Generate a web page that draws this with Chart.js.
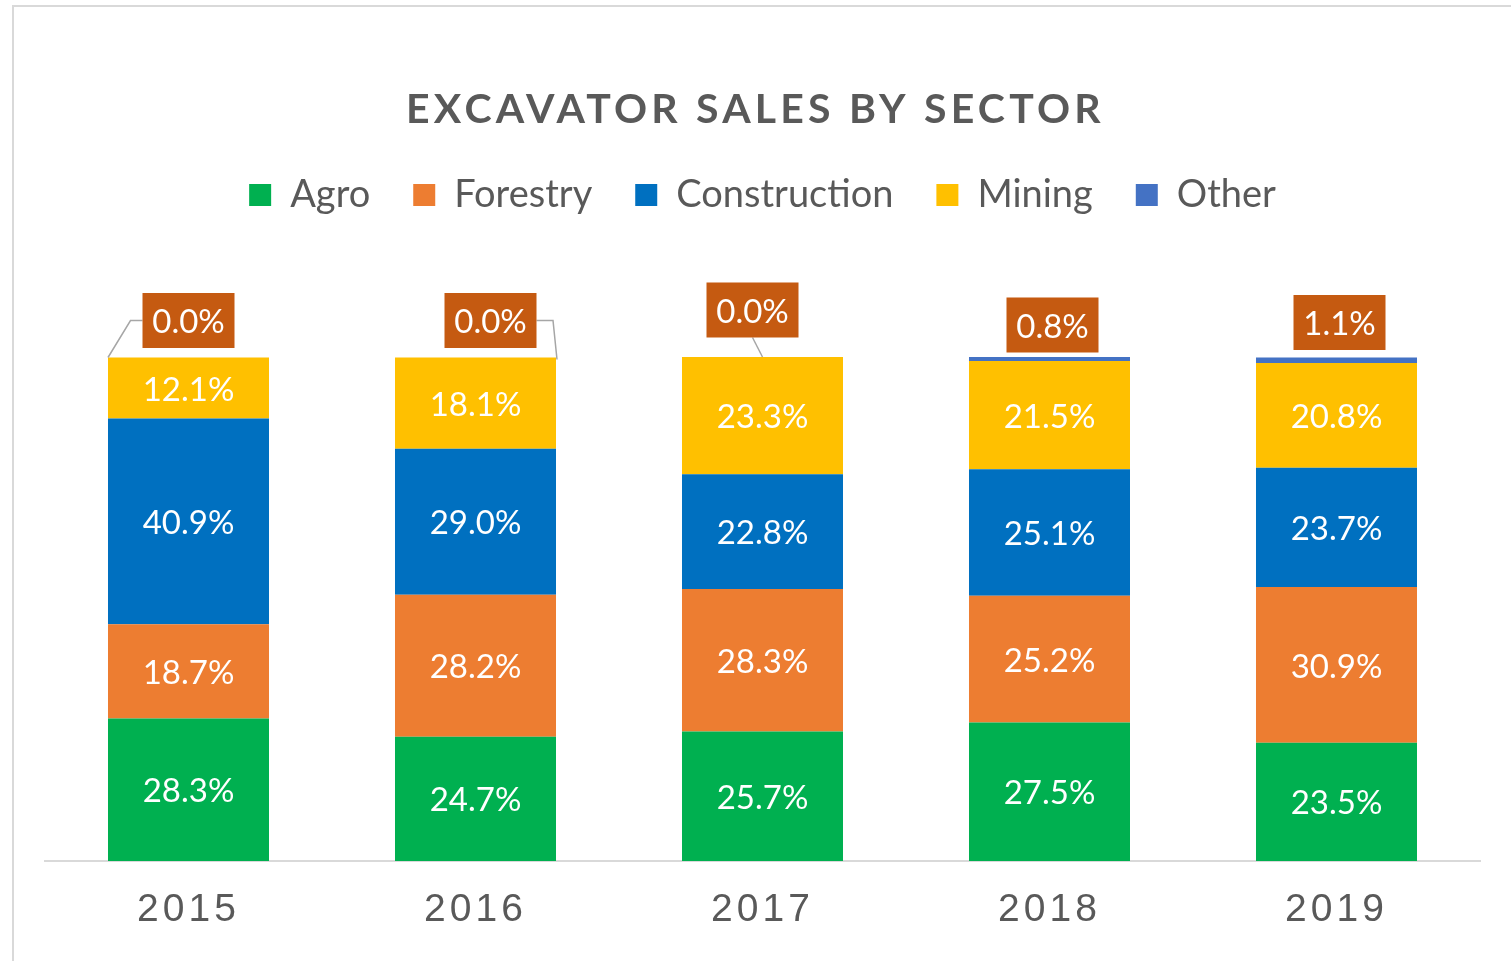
<!DOCTYPE html>
<html>
<head>
<meta charset="utf-8">
<script src="https://cdn.jsdelivr.net/npm/chart.js@4/dist/chart.umd.min.js"></script>
<style>
    html, body { margin: 0; padding: 0; background: #fff; overflow: hidden; }
    #frame { position: absolute; left: 12px; top: 5px; width: 1600px; height: 1100px; border: 2px solid #d9d9d9; }
    #wrap { position: absolute; left: 0; top: 0; width: 1511px; height: 961px; }
</style>
</head>
<body>
<div id="frame"></div>
<div id="wrap"><canvas id="chart"></canvas></div>
<script>
    var years = ['2015', '2016', '2017', '2018', '2019'];
    var agro = [28.3, 24.7, 25.7, 27.5, 23.5];
    var forestry = [18.7, 28.2, 28.3, 25.2, 30.9];
    var construction = [40.9, 29.0, 22.8, 25.1, 23.7];
    var mining = [12.1, 18.1, 23.3, 21.5, 20.8];
    var other = [0.0, 0.0, 0.0, 0.8, 1.1];

    var gray = '#595959',
        labelFont = '"Lato", "Open Sans", sans-serif';

    // where the "Other" callouts were dragged to, relative to the top of each bar
    var calloutPos = [
        {dx: 0, dy: -37, leader: 'left'},
        {dx: 15, dy: -37, leader: 'right'},
        {dx: -10, dy: -47, leader: 'bottom'},
        {dx: 3, dy: -32, leader: null},
        {dx: 3, dy: -35, leader: null}
    ];

    function fmt(v) { return v.toFixed(1) + '%'; }

    // title with letter spacing, drawn by hand since Chart.js can't space letters
    var titlePlugin = {
        id: 'spacedTitle',
        afterDraw: function(chart) {
            var ctx = chart.ctx;
            ctx.save();
            ctx.font = 'bold 41px ' + labelFont;
            ctx.letterSpacing = '4.2px';
            ctx.fillStyle = gray;
            ctx.textAlign = 'center';
            ctx.textBaseline = 'alphabetic';
            ctx.fillText('EXCAVATOR SALES BY SECTOR', chart.width / 2, 123);
            ctx.restore();
        }
    };

    // year labels under the axis, spaced like the original
    var yearPlugin = {
        id: 'yearTicks',
        afterDraw: function(chart) {
            var ctx = chart.ctx, x = chart.scales.x;
            ctx.save();
            ctx.font = '39px "Liberation Sans", Arial, sans-serif';
            ctx.letterSpacing = '4px';
            ctx.fillStyle = gray;
            ctx.textAlign = 'center';
            ctx.textBaseline = 'alphabetic';
            years.forEach(function(y, i) {
                ctx.fillText(y, x.getPixelForTick(i), 921);
            });
            ctx.restore();
        }
    };

    // value labels: white inside segments, brown callouts for "Other"
    var valuePlugin = {
        id: 'valueLabels',
        afterDatasetsDraw: function(chart) {
            var ctx = chart.ctx;
            ctx.save();
            ctx.font = '33px ' + labelFont;
            ctx.textAlign = 'center';
            ctx.textBaseline = 'middle';
            chart.data.datasets.forEach(function(ds, di) {
                var meta = chart.getDatasetMeta(di);
                meta.data.forEach(function(bar, i) {
                    var v = ds.data[i];
                    if(ds.label !== 'Other') {
                        ctx.fillStyle = '#fff';
                        ctx.fillText(fmt(v), bar.x, (bar.y + bar.base) / 2 + 2);
                        return;
                    }
                    var pos = calloutPos[i],
                        w = 92, h = 55,
                        cx = bar.x + pos.dx, cy = bar.y + pos.dy,
                        left = bar.x - bar.width / 2, right = bar.x + bar.width / 2;
                    ctx.strokeStyle = '#a6a6a6';
                    ctx.lineWidth = 1.5;
                    ctx.beginPath();
                    if(pos.leader === 'left') {
                        ctx.moveTo(cx - w / 2, cy);
                        ctx.lineTo(cx - w / 2 - 12, cy);
                        ctx.lineTo(left, bar.y);
                    } else if(pos.leader === 'right') {
                        ctx.moveTo(cx + w / 2, cy);
                        ctx.lineTo(right - 3, cy);
                        ctx.lineTo(right + 1, bar.y + 2);
                    } else if(pos.leader === 'bottom') {
                        ctx.moveTo(cx, cy + h / 2);
                        ctx.lineTo(bar.x, bar.y);
                    }
                    ctx.stroke();
                    ctx.fillStyle = '#c55a11';
                    ctx.fillRect(cx - w / 2, cy - h / 2, w, h);
                    ctx.fillStyle = '#fff';
                    ctx.fillText(fmt(v), cx, cy + 2);
                });
            });
            ctx.restore();
        }
    };

    new Chart(document.getElementById('chart'), {
        type: 'bar',
        data: {
            labels: years,
            datasets: [
                {label: 'Agro', data: agro, backgroundColor: '#00b050'},
                {label: 'Forestry', data: forestry, backgroundColor: '#ed7d31'},
                {label: 'Construction', data: construction, backgroundColor: '#0070c0'},
                {label: 'Mining', data: mining, backgroundColor: '#ffc000'},
                {label: 'Other', data: other, backgroundColor: '#4472c4'}
            ]
        },
        options: {
            responsive: true,
            maintainAspectRatio: false,
            animation: false,
            devicePixelRatio: 1,
            layout: {padding: {top: 133, left: 45, right: 31, bottom: 0}},
            datasets: {bar: {categoryPercentage: 1, barPercentage: 0.561, borderWidth: 0, clip: false}},
            scales: {
                x: {
                    stacked: true,
                    ticks: {display: false},
                    grid: {display: false},
                    border: {display: true, color: '#d9d9d9', width: 2},
                    afterFit: function(s) { s.height = 100; }
                },
                // empty axis that only keeps the gap between legend and bars
                gap: {
                    type: 'category',
                    position: 'top',
                    ticks: {display: false},
                    grid: {display: false},
                    border: {display: false},
                    afterFit: function(s) { s.height = 133.5; }
                },
                y: {
                    stacked: true,
                    display: false,
                    min: 0,
                    max: 100
                }
            },
            plugins: {
                title: {display: false},
                tooltip: {enabled: false},
                legend: {
                    position: 'top',
                    labels: {
                        boxWidth: 22,
                        boxHeight: 22,
                        padding: 43,
                        color: gray,
                        font: {family: labelFont, size: 38}
                    }
                }
            }
        },
        plugins: [valuePlugin, titlePlugin, yearPlugin]
    });
</script>
</body>
</html>
